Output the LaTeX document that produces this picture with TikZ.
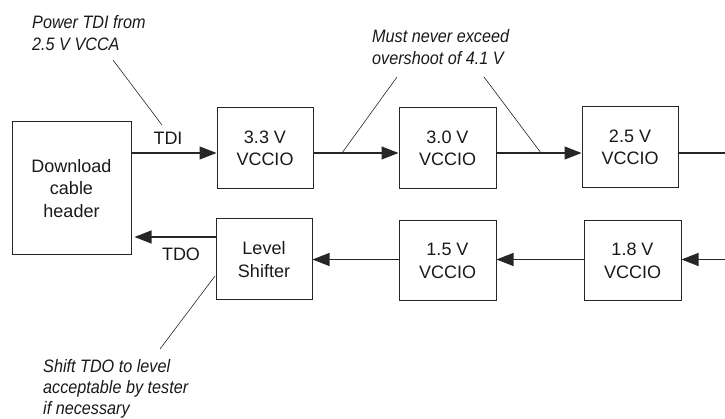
\documentclass[tikz,border=0pt]{standalone}
\usepackage{fontspec}
\setmainfont{Liberation Sans}
\newfontfamily\annofont[FakeStretch=0.9]{Liberation Sans}
\usetikzlibrary{arrows.meta}
\begin{document}
\begin{tikzpicture}[x=1pt,y=-1pt,
  box/.style={draw=black!85, line width=1pt, inner sep=0pt, align=center,
    font=\fontsize{18}{22.5}\selectfont, text=black!90},
  conn/.style={line width=1.1pt, draw=black!85},
  arr/.style={conn, -{Triangle[length=17pt,width=13pt]}},
  callout/.style={line width=0.6pt, draw=black!85},
  note/.style={font=\annofont\itshape\fontsize{18}{22}\selectfont, align=left,
    inner sep=0pt, anchor=north west, text=black!90},
  lbl/.style={font=\fontsize{18}{22.5}\selectfont, inner sep=0pt, text=black!90}]
\useasboundingbox (0,0) rectangle (725,419);

% boxes
\node[box, minimum width=119pt, minimum height=133pt] (dl) at (71.5,188.5) {Download\\cable\\header};
\node[box, minimum width=96pt, minimum height=81pt] (b33) at (265,148.5) {3.3 V\\VCCIO};
\node[box, minimum width=97pt, minimum height=81pt] (b30) at (447.5,148.5) {3.0 V\\VCCIO};
\node[box, minimum width=96pt, minimum height=81pt] (b25) at (630,147.5) {2.5 V\\VCCIO};
\node[box, minimum width=96pt, minimum height=81pt] (ls) at (264,259.5) {Level\\Shifter};
\node[box, minimum width=97pt, minimum height=80pt] (b15) at (447.5,261) {1.5 V\\VCCIO};
\node[box, minimum width=97pt, minimum height=80pt] (b18) at (632.5,261) {1.8 V\\VCCIO};

% top chain
\coordinate (yt) at (0,153);
\coordinate (rt) at (725,153);
\draw[arr] (dl.east |- yt) -- (b33.west |- yt);
\draw[arr] (b33.east |- yt) -- (b30.west |- yt);
\draw[arr] (b30.east |- yt) -- (b25.west |- yt);
\draw[conn] (b25.east |- rt) -- (rt);

% bottom chain
\coordinate (rb) at (725,259.5);
\coordinate (yo) at (0,237);
\draw[arr] (rb) -- (b18.east |- rb);
\draw[arr] (b18.west |- rb) -- (b15.east |- rb);
\draw[arr] (b15.west |- rb) -- (ls.east |- rb);
\draw[arr, shorten >=3pt] (ls.west |- yo) -- (dl.east |- yo);

% labels
\node[lbl] (tdi) at (168,138) {TDI};
\node[lbl] (tdo) at (181,254) {TDO};

% notes
\node[note] (n1) at (32,15.5) {Power TDI from\\2.5 V VCCA};
\node[note] (n2) at (372,29) {Must never exceed\\overshoot of 4.1 V};
\node[note, font=\annofont\itshape\fontsize{18}{21}\selectfont] (n3) at (43,359) {Shift TDO to level\\acceptable by tester\\if necessary};

% callout lines
\coordinate (c1a) at (113,60);
\coordinate (c1b) at (162,125);
\draw[callout] (c1a) -- (c1b);
\coordinate (c2a) at (397,77);
\coordinate (c2b) at (342,153);
\draw[callout] (c2a) -- (c2b);
\coordinate (c3a) at (484,77);
\coordinate (c3b) at (541,153);
\draw[callout] (c3a) -- (c3b);
\coordinate (c4a) at (215,276);
\coordinate (c4b) at (160,349);
\draw[callout] (c4a) -- (c4b);
\end{tikzpicture}
\end{document}
